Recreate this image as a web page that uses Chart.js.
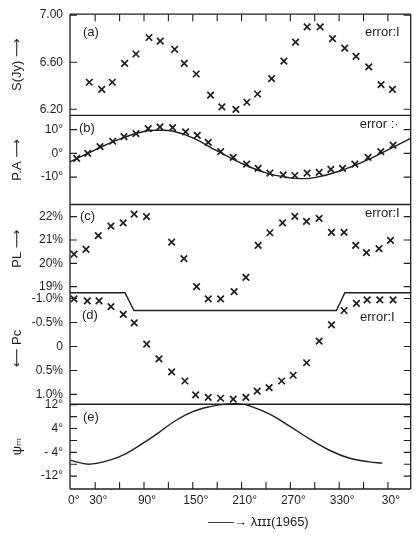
<!DOCTYPE html>
<html>
<head>
<meta charset="utf-8">
<script src="https://cdn.jsdelivr.net/npm/chart.js@4/dist/chart.umd.min.js"></script>
<style>
  html, body { margin: 0; padding: 0; background: #ffffff; }
  #wrap { width: 417px; height: 536px; }
</style>
</head>
<body>
<div id="wrap"><canvas id="c" width="417" height="536"></canvas></div>
<script>
// ---------- data ----------
// (a) flux density S(Jy)
const lambdaA = [22.7, 38.0, 51.0, 66.2, 80.1, 96.1, 110.0, 127.7, 139.5, 154.2, 171.9, 185.8, 203.0, 216.5, 229.7, 246.9, 262.0, 276.4, 290.6, 306.6, 321.8, 336.9, 350.8, 366.4, 381.5, 395.5];
const fluxA   = [6.43, 6.37, 6.43, 6.59, 6.67, 6.81, 6.78, 6.71, 6.59, 6.50, 6.32, 6.22, 6.20, 6.26, 6.33, 6.46, 6.61, 6.77, 6.90, 6.90, 6.80, 6.72, 6.65, 6.56, 6.41, 6.37];

// (b) position angle, points + model curve
const lambdaB = [7.2, 20.8, 35.9, 51.5, 65.4, 80.1, 95.2, 109.6, 125.2, 141.2, 155.5, 169.0, 184.3, 199.7, 216.2, 230.4, 244.8, 261.2, 275.5, 290.6, 305.4, 319.8, 334.2, 349.3, 365.6, 381.2, 396.3];
const paB     = [-2.1, 0.0, 2.8, 5.1, 7.0, 8.3, 10.4, 11.1, 10.8, 9.0, 7.6, 4.6, 0.7, -1.7, -4.5, -6.3, -8.3, -9.0, -9.3, -8.3, -8.0, -6.7, -6.3, -4.5, -1.7, 0.7, 3.5];
const curveBDeg = [-1, 30, 60, 90, 108, 125, 150, 180, 210, 240, 270, 285, 300, 330, 360, 390, 418];
const curveBVal = [-3.6, 1.5, 6.0, 9.2, 9.7, 9.4, 6.5, 1.0, -4.2, -8.2, -10.3, -10.6, -10.2, -7.5, -3.5, 1.5, 6.3];

// (c) linear polarization P_L (%)
const lambdaC = [3.9, 18.7, 33.8, 49.3, 64.4, 77.9, 93.1, 124.0, 139.1, 154.7, 169.0, 184.2, 200.9, 215.3, 230.4, 244.8, 260.4, 275.5, 289.9, 305.4, 320.6, 336.0, 350.4, 363.6, 379.0, 393.1];
const plC     = [20.39, 20.60, 21.19, 21.59, 21.73, 22.11, 22.00, 20.91, 20.20, 19.00, 18.48, 18.48, 18.79, 19.40, 20.77, 21.31, 21.73, 22.01, 21.80, 21.93, 21.33, 21.33, 20.77, 20.46, 20.63, 20.98];

// (d) circular polarization P_c (%)
const lambdaD = [3.9, 20.3, 34.7, 49.4, 64.5, 78.0, 93.3, 108.4, 124.0, 140.3, 153.5, 169.0, 184.2, 199.7, 215.3, 229.2, 243.9, 259.3, 273.5, 290.0, 305.4, 320.6, 336.1, 351.3, 364.4, 380.0, 396.3];
const pcD     = [-0.99, -0.95, -0.95, -0.83, -0.67, -0.49, -0.05, 0.26, 0.53, 0.72, 1.01, 1.06, 1.08, 1.10, 1.06, 0.93, 0.86, 0.72, 0.60, 0.34, -0.11, -0.45, -0.75, -0.90, -0.97, -0.97, -0.97];
// stepped separator between panels (c) and (d), in P_c units
const sepDeg = [-1, 66.6, 77.7, 326.7, 337, 418];
const sepPc  = [-1.12, -1.12, -0.75, -0.75, -1.12, -1.12];

// (e) psi_m curve
const curveEDeg = [0, 22, 47, 68, 88, 109, 129, 150, 170, 191, 207, 219, 244, 268, 293, 318, 342, 367, 383];
const curveEVal = [-6.7, -8.0, -6.7, -4.4, -1.1, 2.8, 6.7, 9.7, 11.3, 12.2, 12.3, 11.7, 8.9, 5.0, 0.6, -3.3, -5.9, -7.2, -7.6];

// tick values and labels
const xTickVals   = [0, 30, 60, 90, 120, 150, 180, 210, 240, 270, 300, 330, 360, 390];
const xTickLabels = ['0°', '30°', '', '90°', '', '150°', '', '210°', '', '270°', '', '330°', '', '30°'];
const aTicks = [6.2, 6.6, 7.0];          const aLabels = ['6.20', '6.60', '7.00'];
const bTicks = [-10, 0, 10];             const bLabels = ['-10°', '0°', '10°'];
const cTicks = [19, 20, 21, 22];         const cLabels = ['19%', '20%', '21%', '22%'];
const dTicks = [-1, -0.5, 0, 0.5, 1];    const dLabels = ['-1.0%', '-0.5%', '0', '0.5%', '1.0%'];
const eTicks = [-12, -8, -4, 0, 4, 8, 12]; const eLabels = ['-12°', '', '- 4°', '', '4°', '', '12°'];

const panelTags  = ['(a)', '(b)', '(c)', '(d)', '(e)'];
const errorNotes = ['error:I', 'error :·', 'error:I', 'error:I', ''];

// ---------- styling ----------
const INK = '#1f1f1f';
const FONT = "'Liberation Sans', Arial, 'DejaVu Sans', sans-serif";

const pts = (xs, ys) => xs.map((x, i) => ({ x: x, y: ys[i] }));

function crossSet(id, data) {
  return {
    yAxisID: id, data: data, showLine: false,
    pointStyle: 'crossRot', pointRadius: 4.6, pointBorderWidth: 1.7,
    borderColor: INK, backgroundColor: INK, clip: false
  };
}
function lineSet(id, data, tension) {
  return {
    yAxisID: id, data: data, showLine: true, pointRadius: 0,
    borderColor: INK, borderWidth: 1.4, tension: tension, clip: false
  };
}

function yScale(weight, stackWeight, min, max, ticks, labels, title, reverse) {
  return {
    type: 'linear', position: 'left', stack: 'panels', stackWeight: stackWeight, weight: weight,
    min: min, max: max, reverse: !!reverse, offset: false,
    grid: { display: false, drawTicks: false },
    border: { display: false },
    afterBuildTicks: s => { s.ticks = ticks.map(v => ({ value: v })); },
    afterFit: s => { s.width = 70; },
    ticks: {
      autoSkip: false, padding: 7, color: INK,
      font: { family: FONT, size: 12 },
      callback: (v, i) => labels[i]
    },
    title: {
      display: true, text: title, color: INK,
      font: { family: FONT, size: 13 },
      padding: { top: 10, bottom: 0 }
    }
  };
}

const framePlugin = {
  id: 'frame',
  afterDatasetsDraw(chart) {
    const { ctx, chartArea: ca, scales } = chart;
    ctx.save();
    ctx.strokeStyle = INK;
    ctx.lineWidth = 1.3;
    ctx.beginPath();
    ctx.moveTo(ca.left, ca.top); ctx.lineTo(ca.left, ca.bottom);
    ctx.moveTo(ca.right, ca.top); ctx.lineTo(ca.right, ca.bottom);
    ['yA', 'yB', 'yC', 'yE'].forEach(id => {
      const s = scales[id];
      ctx.moveTo(ca.left, s.top); ctx.lineTo(ca.right, s.top);
    });
    ctx.moveTo(ca.left, ca.bottom); ctx.lineTo(ca.right, ca.bottom);
    ctx.stroke();

    // inward tick marks
    ctx.lineWidth = 1.1;
    ctx.beginPath();
    const tl = 7;
    ['yA', 'yB', 'yC', 'yD', 'yE'].forEach(id => {
      const s = scales[id];
      s.ticks.forEach(t => {
        const y = s.getPixelForValue(t.value);
        ctx.moveTo(ca.left, y); ctx.lineTo(ca.left + tl, y);
        ctx.moveTo(ca.right - tl, y); ctx.lineTo(ca.right, y);
      });
    });
    const sx = scales.x;
    sx.ticks.forEach(t => {
      if (t.value <= 0) return;
      const x = sx.getPixelForValue(t.value);
      ctx.moveTo(x, ca.top); ctx.lineTo(x, ca.top + tl);
      ctx.moveTo(x, ca.bottom); ctx.lineTo(x, ca.bottom - tl);
    });
    ctx.stroke();

    // panel tags and error notes
    ctx.fillStyle = INK;
    ctx.font = '13px ' + FONT;
    ctx.textBaseline = 'middle';
    const tagOff = [[13, 18], [9, 13], [10, 12], [12, 23], [13, 13]];
    const errOff = [[11, 18], [12, 9], [11, 9], [16, 25], [0, 0]];
    ['yA', 'yB', 'yC', 'yD', 'yE'].forEach((id, i) => {
      const s = scales[id];
      ctx.textAlign = 'left';
      ctx.fillText(panelTags[i], ca.left + tagOff[i][0], s.top + tagOff[i][1]);
      if (errorNotes[i]) {
        ctx.textAlign = 'right';
        ctx.fillText(errorNotes[i], ca.right - errOff[i][0], s.top + errOff[i][1]);
      }
    });
    ctx.restore();
  }
};

new Chart(document.getElementById('c'), {
  type: 'scatter',
  data: {
    datasets: [
      crossSet('yA', pts(lambdaA, fluxA)),
      lineSet('yB', pts(curveBDeg, curveBVal), 0.4),
      crossSet('yB', pts(lambdaB, paB)),
      crossSet('yC', pts(lambdaC, plC)),
      lineSet('yD', pts(sepDeg, sepPc), 0),
      crossSet('yD', pts(lambdaD, pcD)),
      lineSet('yE', pts(curveEDeg, curveEVal), 0.4)
    ]
  },
  options: {
    responsive: false,
    devicePixelRatio: 1,
    animation: false,
    layout: { padding: { top: 10, right: 6, left: 0, bottom: 0 } },
    plugins: { legend: { display: false }, tooltip: { enabled: false } },
    scales: {
      x: {
        type: 'linear', position: 'bottom', min: -1, max: 418,
        grid: { display: false, drawTicks: false },
        border: { display: false },
        afterBuildTicks: s => { s.ticks = xTickVals.map(v => ({ value: v })); },
        afterFit: s => { s.height = 47; },
        ticks: {
          autoSkip: false, maxRotation: 0, padding: 4, labelOffset: 3, color: INK,
          font: { family: FONT, size: 12 },
          callback: (v, i) => xTickLabels[i]
        },
        title: {
          display: true, text: '          ——→ λɪɪɪ(1965)', color: INK,
          font: { family: FONT, size: 13 },
          padding: { top: 4, bottom: 6 }
        }
      },
      yE: yScale(1, 85.5, -16.33, 12.17, eTicks, eLabels, 'ψₘ'),
      yD: yScale(2, 112.5, -1.12, 1.205, dTicks, dLabels, '⟵ Pc', true),
      yC: yScale(3, 89, 18.74, 22.52, cTicks, cLabels, 'PL ⟶'),
      yB: yScale(4, 90, -21.5, 16, bTicks, bLabels, 'P.A ⟶'),
      yA: yScale(5, 102, 6.149, 7.008, aTicks, aLabels, 'S(Jy) ⟶')
    }
  },
  plugins: [framePlugin]
});
</script>
</body>
</html>
